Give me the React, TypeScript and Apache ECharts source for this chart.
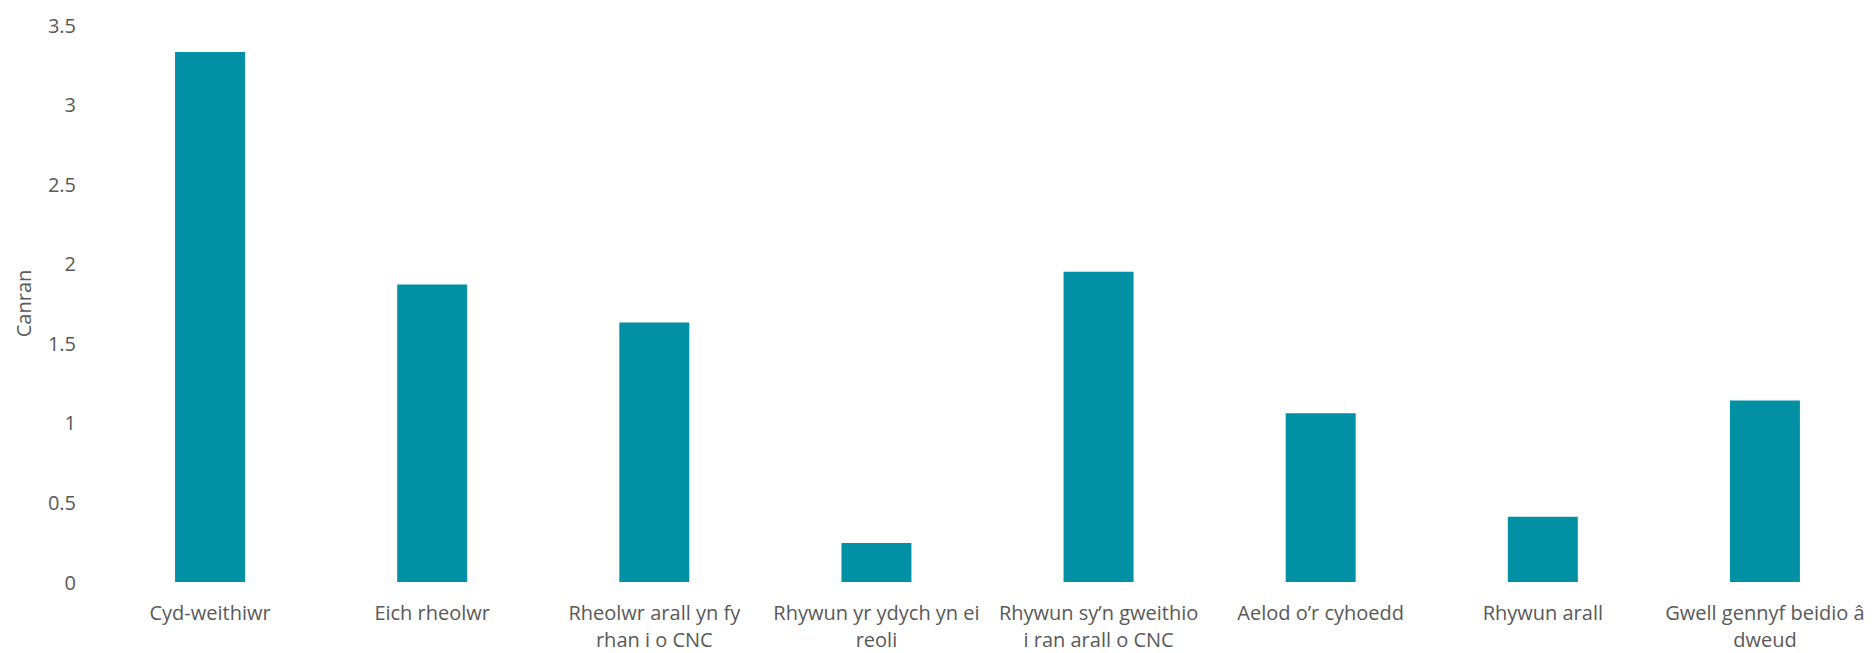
import React, { useEffect, useRef } from "react";
import * as echarts from "echarts";

const categories = [
  "Cyd-weithiwr",
  "Eich rheolwr",
  "Rheolwr arall yn fy\nrhan i o CNC",
  "Rhywun yr ydych yn ei\nreoli",
  "Rhywun sy’n gweithio\ni ran arall o CNC",
  "Aelod o’r cyhoedd",
  "Rhywun arall",
  "Gwell gennyf beidio â\ndweud",
];

const values = [3.33, 1.87, 1.63, 0.245, 1.95, 1.06, 0.41, 1.14];

const yAxisName = "Canran";

export default function App() {
  const ref = useRef<HTMLDivElement>(null);

  useEffect(() => {
    if (!ref.current) return;
    const chart = echarts.init(ref.current, undefined, { renderer: "svg" });
    const font = "'Open Sans', sans-serif";
    chart.setOption({
      animation: false,
      backgroundColor: "#ffffff",
      grid: { left: 99, right: 0, top: 25, bottom: 70, containLabel: false },
      xAxis: {
        type: "category",
        data: categories,
        axisLine: { show: false },
        axisTick: { show: false },
        axisLabel: {
          interval: 0,
          color: "#595959",
          fontFamily: font,
          fontSize: 20,
          lineHeight: 27,
          margin: 17,
        },
      },
      yAxis: {
        type: "value",
        min: 0,
        max: 3.5,
        interval: 0.5,
        name: yAxisName,
        nameLocation: "middle",
        nameGap: 66,
        nameTextStyle: { color: "#595959", fontFamily: font, fontSize: 20 },
        axisLine: { show: false },
        axisTick: { show: false },
        splitLine: { show: false },
        axisLabel: {
          color: "#595959",
          fontFamily: font,
          fontSize: 20,
          margin: 23,
        },
      },
      series: [
        {
          type: "bar",
          data: values,
          barWidth: "31.5%",
          itemStyle: { color: "#0291a4" },
        },
      ],
    });
    return () => chart.dispose();
  }, []);

  return (
    <div
      ref={ref}
      style={{ position: "absolute", left: 0, top: 0, width: 1876, height: 653 }}
    />
  );
}
